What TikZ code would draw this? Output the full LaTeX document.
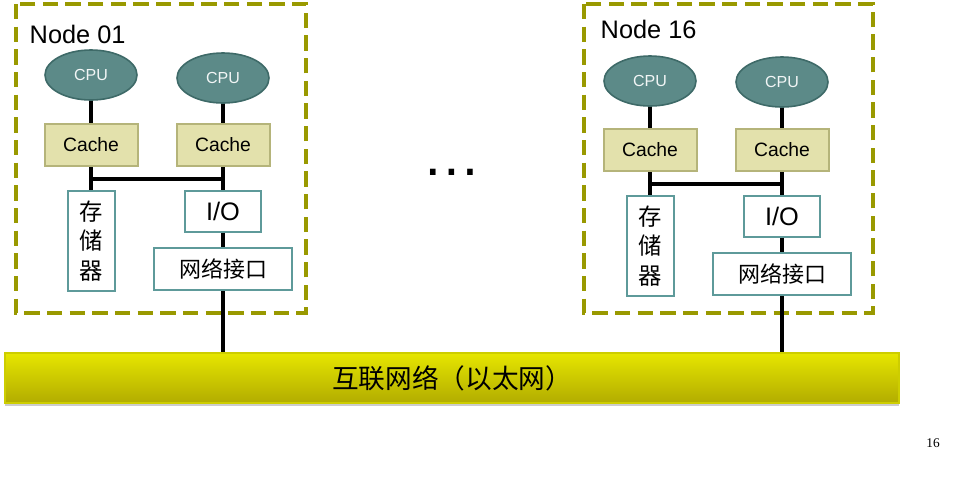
\documentclass[tikz,border=0pt]{standalone}
\usepackage{fontspec}
\setmainfont{Liberation Sans}
\newfontfamily\cjk{Noto Sans CJK SC}
\newfontfamily\pagefont{Liberation Serif}
\usepackage{xcolor}
\usepackage{tikz}
\usetikzlibrary{shapes.geometric,shadows}

\definecolor{nodeedge}{RGB}{153,153,0}
\definecolor{cpufill}{RGB}{92,138,136}
\definecolor{cpuedge}{RGB}{62,106,104}
\definecolor{cachefill}{RGB}{227,225,172}
\definecolor{cacheedge}{RGB}{181,180,122}
\definecolor{tealedge}{RGB}{94,154,154}
\definecolor{bustop}{RGB}{230,230,0}
\definecolor{busbottom}{RGB}{178,172,0}
\definecolor{busedge}{RGB}{205,205,0}

\tikzstyle{nodebox} = [
    draw=nodeedge,
    line width=2.4pt,
    dash pattern=on 11.5pt off 5.5pt
    ]
\tikzstyle{cpu} = [
    ellipse,
    fill=cpufill,
    draw=cpuedge,
    line width=1.2pt,
    text=white!92!cpufill,
    minimum width=69pt,
    minimum height=37.5pt,
    inner sep=0pt,
    font=\fontsize{12}{14}\selectfont
    ]
\tikzstyle{cache} = [
    rectangle,
    fill=cachefill,
    draw=cacheedge,
    line width=1.5pt,
    minimum width=69.75pt,
    minimum height=31.5pt,
    inner sep=0pt,
    font=\fontsize{14.5}{16}\selectfont
    ]
\tikzstyle{part} = [
    rectangle,
    fill=white,
    draw=tealedge,
    line width=1.5pt,
    inner sep=0pt
    ]
\tikzstyle{link} = [line width=3pt, black]

\begin{document}
\begin{tikzpicture}[x=0.75pt, y=-0.75pt]
    \useasboundingbox (0,0) rectangle (953,480);

    % Node 01
    \draw[nodebox] (16,4) rectangle (306,313);
    \node (labelA) [anchor=west, font=\fontsize{19}{22}\selectfont] at (25,34) {Node 01};
    \node (cpuA1) [cpu] at (91,75) {CPU};
    \node (cpuA2) [cpu] at (223,78) {CPU};
    \node (cacheA1) [cache] at (91,145) {Cache};
    \node (cacheA2) [cache] at (223,145) {Cache};
    \node (memA) [part, minimum width=35.25pt, minimum height=75pt, align=center,
        font=\cjk\fontsize{17.5}{22}\selectfont] at (91,241) {存\\储\\器};
    \node (ioA) [part, minimum width=57pt, minimum height=30.75pt,
        font=\fontsize{19}{22}\selectfont] at (223,211) {I/O};
    \node (netA) [part, minimum width=104pt, minimum height=31.5pt,
        font=\cjk\fontsize{16.5}{20}\selectfont] at (223,269) {网络接口};
    \coordinate (jA1) at (91,179);
    \coordinate (jA2) at (223,179);

    % Node 16
    \draw[nodebox] (584,4) rectangle (873,313);
    \node (labelB) [anchor=west, font=\fontsize{19}{22}\selectfont] at (596,29) {Node 16};
    \node (cpuB1) [cpu] at (650,81) {CPU};
    \node (cpuB2) [cpu] at (782,82) {CPU};
    \node (cacheB1) [cache] at (650,150) {Cache};
    \node (cacheB2) [cache] at (782,150) {Cache};
    \node (memB) [part, minimum width=35.25pt, minimum height=75pt, align=center,
        font=\cjk\fontsize{17.5}{22}\selectfont] at (650,246) {存\\储\\器};
    \node (ioB) [part, minimum width=57pt, minimum height=30.75pt,
        font=\fontsize{19}{22}\selectfont] at (782,216) {I/O};
    \node (netB) [part, minimum width=104pt, minimum height=31.5pt,
        font=\cjk\fontsize{16.5}{20}\selectfont] at (782,274) {网络接口};
    \coordinate (jB1) at (650,184);
    \coordinate (jB2) at (782,184);

    \node (dots) [font=\fontsize{44}{44}\selectfont] at (452,172) {…};

    % Ethernet
    \node (ether) [rectangle, top color=bustop, bottom color=busbottom,
        draw=busedge, line width=1pt,
        drop shadow={shadow xshift=0pt, shadow yshift=-2.5pt, opacity=0.4},
        minimum width=670.5pt, minimum height=37.5pt,
        font=\cjk\fontsize{20}{24}\selectfont] at (452,378) {互联网络（以太网）};

    \node (page) [font=\pagefont\fontsize{10}{12}\selectfont] at (933,443) {16};

    % Lines
    \draw[link] (cpuA1) -- (cacheA1);
    \draw[link] (cpuA2) -- (cacheA2);
    \draw[link] (cacheA1) -- (memA);
    \draw[link] (cacheA2) -- (ioA);
    \draw[link] (jA1) -- (jA2);
    \draw[link] (ioA) -- (netA);
    \draw[link] (netA.south) -- (netA.south |- ether.north);

    \draw[link] (cpuB1) -- (cacheB1);
    \draw[link] (cpuB2) -- (cacheB2);
    \draw[link] (cacheB1) -- (memB);
    \draw[link] (cacheB2) -- (ioB);
    \draw[link] (jB1) -- (jB2);
    \draw[link] (ioB) -- (netB);
    \draw[link] (netB.south) -- (netB.south |- ether.north);
\end{tikzpicture}
\end{document}
